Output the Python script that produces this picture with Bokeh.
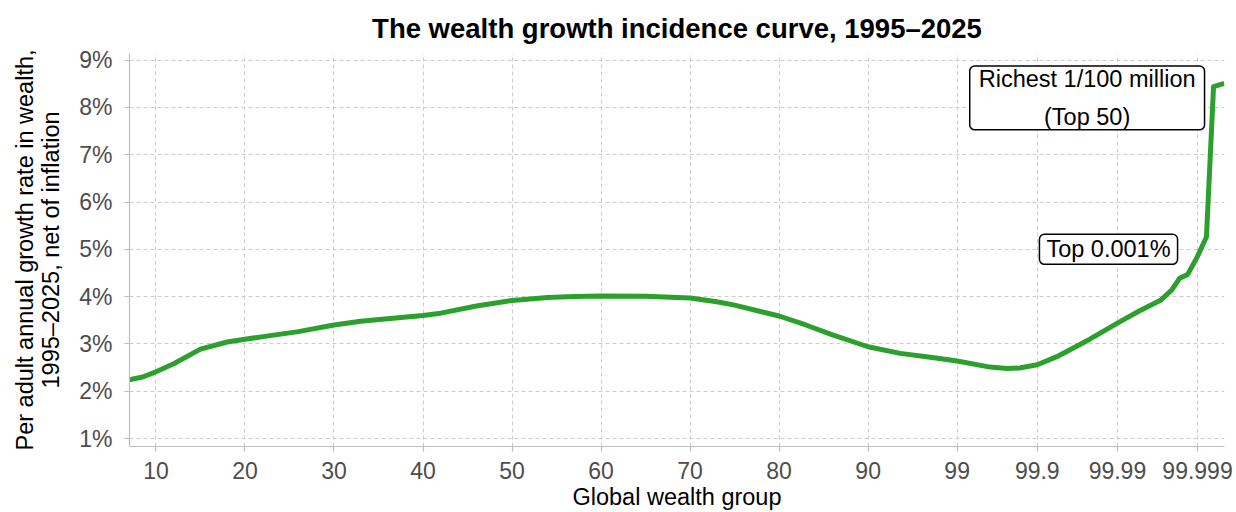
from bokeh.plotting import figure
from bokeh.models import Range1d, FixedTicker, Label
from bokeh.embed import file_html
from bokeh.resources import INLINE

# Position of each wealth group on the chart's rank axis (group index)
group_rank = [7.0, 8.5, 10, 12, 15, 18, 20, 23, 26, 30, 33, 36, 40, 42, 46, 50,
              54, 57, 60, 65, 70, 73, 75, 80, 83, 86, 90, 93.6, 97, 100, 103.7,
              105.6, 107, 109, 111.2, 114.9, 118, 120.5, 122.9, 124.1, 125, 125.9,
              127, 128, 128.8, 130]
# Per adult annual real wealth growth rate, 1995-2025 (%)
growth_pct = [2.24, 2.30, 2.41, 2.58, 2.89, 3.04, 3.10, 3.18, 3.26, 3.40, 3.48, 3.53,
              3.60, 3.65, 3.80, 3.92, 3.98, 4.00, 4.015, 4.01, 3.97, 3.89, 3.82, 3.59,
              3.40, 3.19, 2.94, 2.80, 2.72, 2.64, 2.51, 2.48, 2.49, 2.56, 2.73, 3.10,
              3.44, 3.70, 3.93, 4.14, 4.39, 4.47, 4.85, 5.26, 8.44, 8.51]

x_tick_pos = [10, 20, 30, 40, 50, 60, 70, 80, 90, 100, 109, 118, 127]
x_tick_labels = ["10", "20", "30", "40", "50", "60", "70", "80", "90",
                 "99", "99.9", "99.99", "99.999"]
y_ticks = [1, 2, 3, 4, 5, 6, 7, 8, 9]
y_tick_labels = [f"{v}%" for v in y_ticks]

annot_text = ["Richest 1/100 million\n(Top 50)", "Top 0.001%"]
annot_x = [114.6, 117.0]
annot_y = [8.2, 5.0]
annot_line_height = [1.45, 1.1]
annot_pad = [dict(x=9, y=0), dict(x=7, y=2)]

FONT = "Liberation Sans"

p = figure(width=1236, height=512, output_backend="svg", toolbar_location=None,
           x_range=Range1d(7.03, 130.03), y_range=Range1d(0.831, 9.14),
           min_border_left=129, min_border_right=12, min_border_top=53,
           min_border_bottom=65)

p.title.text = "The wealth growth incidence curve, 1995\u20132025"
p.title.align = "center"
p.title.vertical_align = "middle"
p.title.text_font = FONT
p.title.text_font_size = "27.5px"
p.title.text_font_style = "bold"
p.title.text_color = "black"
p.title.standoff = 18

p.outline_line_color = None
p.background_fill_color = "white"

p.xaxis.ticker = FixedTicker(ticks=x_tick_pos)
p.xaxis.major_label_overrides = dict(zip(x_tick_pos, x_tick_labels))
p.yaxis.ticker = FixedTicker(ticks=y_ticks)
p.yaxis.major_label_overrides = dict(zip(y_ticks, y_tick_labels))

for ax in (p.xaxis, p.yaxis):
    ax.axis_line_color = "#bebebe"
    ax.axis_line_width = 1.2
    ax.major_tick_line_color = "#bebebe"
    ax.major_tick_line_width = 1.2
    ax.major_tick_out = 5
    ax.major_tick_in = 0
    ax.minor_tick_line_color = None
    ax.major_label_text_font = FONT
    ax.major_label_text_font_size = "23px"
    ax.major_label_text_color = "#4d4d4d"
    ax.axis_label_text_font = FONT
    ax.axis_label_text_font_size = "23.5px"
    ax.axis_label_text_color = "black"
    ax.axis_label_text_font_style = "normal"

p.xaxis.axis_label = "Global wealth group"
p.xaxis.major_label_standoff = 10
p.xaxis.axis_label_standoff = 2
p.yaxis.axis_label = "Per adult annual growth rate in wealth,\n1995\u20132025, net of inflation"
p.yaxis.axis_label_text_line_height = 1.0
p.yaxis.major_label_standoff = 12
p.yaxis.axis_label_standoff = 12

for g in (p.xgrid, p.ygrid):
    g.grid_line_color = "#cccccc"
    g.grid_line_dash = "4 3"
    g.grid_line_width = 1
p.xgrid.ticker = FixedTicker(ticks=x_tick_pos)
p.ygrid.ticker = FixedTicker(ticks=y_ticks)

p.line(group_rank, growth_pct, line_color="#2ca02c", line_width=5, line_join="round")

for t, x, y, lh, pad in zip(annot_text, annot_x, annot_y, annot_line_height, annot_pad):
    p.add_layout(Label(x=x, y=y, text=t, text_align="center", text_baseline="middle",
                       text_font=FONT, text_font_size="23.5px", text_color="black",
                       text_line_height=lh,
                       background_fill_color="white", border_line_color="black",
                       border_line_width=1.5, border_radius=5, padding=pad))

open("out.html", "w").write(file_html(p, INLINE))
